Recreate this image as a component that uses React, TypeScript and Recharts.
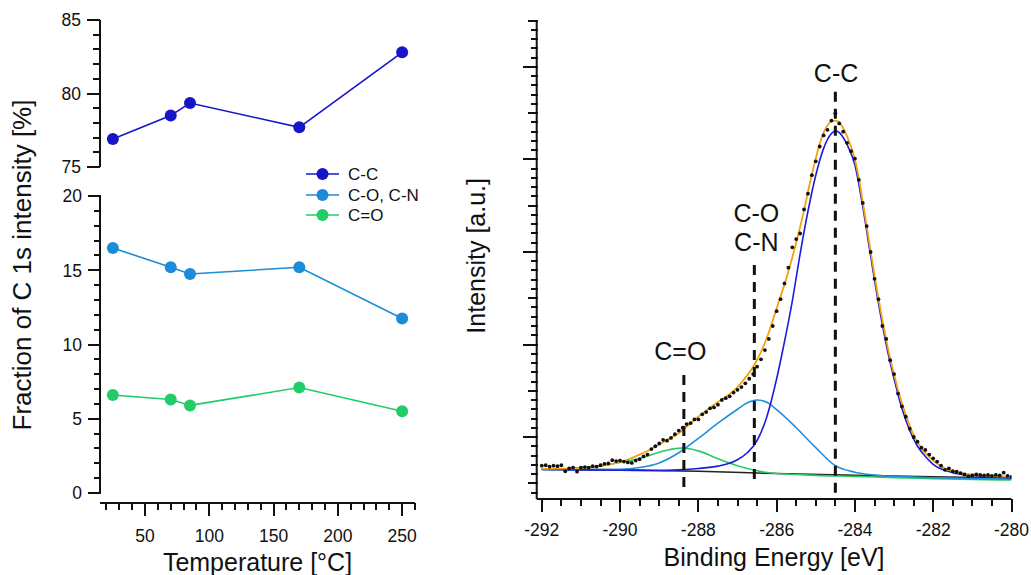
import React from "react";
import {
  LineChart,
  ComposedChart,
  Line,
  Scatter,
  XAxis,
  YAxis,
  ReferenceLine,
  Legend,
} from "recharts";

const FONT = '"Liberation Sans", Arial, Helvetica, sans-serif';
const INK = "#111";

// ---- left panel: fractions vs temperature ----
const temperatures = [25, 70, 85, 170, 250];
const fracCC = [76.9, 78.5, 79.35, 77.7, 82.8];
const fracCO = [16.5, 15.2, 14.75, 15.2, 11.75];
const fracCdO = [6.6, 6.3, 5.9, 7.1, 5.5];

const seriesNames = ["C-C", "C-O, C-N", "C=O"];
const seriesColors = ["#1616c8", "#1c8bd8", "#22cc68"];

const tempLabels = [50, 100, 150, 200, 250];
const topLabels = [75, 80, 85];
const bottomLabels = [0, 5, 10, 15, 20];

// ---- right panel: C 1s spectrum ----
const beLabels = [-292, -290, -288, -286, -284, -282, -280];

const bgEnergy = [-292, -290, -288, -286, -284, -282, -280];
const bgIntensity = [6.55, 6.45, 6.3, 6.05, 5.85, 5.7, 5.55];

const cdoEnergy = [-292, -291.5, -291, -290.5, -290, -289.5, -289, -288.75, -288.45, -288.2, -288, -287.5, -287, -286.5, -286, -285.5, -285, -284, -283, -282, -281, -280];
const cdoIntensity = [6.5, 6.55, 6.7, 6.9, 7.25, 7.7, 8.35, 8.62, 8.8, 8.7, 8.5, 7.65, 6.9, 6.35, 6.05, 5.95, 5.85, 5.75, 5.6, 5.5, 5.4, 5.35];

const coEnergy = [-292, -291, -290, -289.5, -289, -288.5, -288, -287.5, -287, -286.75, -286.5, -286.25, -286, -285.5, -285, -284.5, -284, -283.5, -283, -282, -281, -280];
const coIntensity = [6.5, 6.45, 6.5, 6.7, 7.2, 8.3, 9.85, 11.5, 13.0, 13.7, 14.0, 13.75, 12.95, 11.0, 8.85, 6.9, 6.2, 5.9, 5.75, 5.6, 5.5, 5.45];

const ccEnergy = [-292, -291, -290, -289, -288.5, -288, -287.5, -287.25, -287, -286.75, -286.5, -286.25, -286, -285.8, -285.6, -285.4, -285.2, -285, -284.8, -284.6, -284.5, -284.4, -284.2, -284, -283.8, -283.6, -283.4, -283.2, -283, -282.8, -282.6, -282.4, -282.2, -282, -281.5, -281, -280.5, -280];
const ccIntensity = [6.5, 6.45, 6.4, 6.38, 6.45, 6.6, 6.85, 7.1, 7.55, 8.3, 9.6, 12.2, 16.3, 20.3, 24.7, 29.8, 34.4, 38.3, 41.2, 42.8, 43.1, 42.9, 41.6, 39.4, 34.9, 29.6, 24.5, 20.0, 16.3, 13.1, 10.7, 9.0, 7.9, 7.05, 6.15, 5.85, 5.7, 5.6];

const envEnergy = [-292, -291.5, -291, -290.5, -290, -289.75, -289.5, -289.25, -289, -288.75, -288.5, -288.25, -288, -287.75, -287.5, -287.25, -287, -286.8, -286.6, -286.4, -286.2, -286, -285.9, -285.8, -285.7, -285.6, -285.5, -285.4, -285.3, -285.2, -285.1, -285, -284.9, -284.8, -284.7, -284.6, -284.5, -284.4, -284.3, -284.2, -284.1, -284, -283.9, -283.8, -283.7, -283.6, -283.5, -283.4, -283.3, -283.2, -283.1, -283, -282.9, -282.8, -282.7, -282.6, -282.5, -282.4, -282.3, -282.2, -282.1, -282, -281.8, -281.6, -281.4, -281.2, -281, -280.5, -280];
const envIntensity = [6.55, 6.58, 6.65, 6.85, 7.3, 7.65, 8.1, 8.6, 9.2, 9.8, 10.4, 11.3, 12.2, 13.0, 13.8, 14.5, 15.4, 16.4, 17.6, 19.2, 21.3, 23.9, 25.2, 26.5, 27.9, 29.4, 31.0, 32.7, 34.5, 36.5, 38.4, 40.1, 41.7, 42.9, 43.7, 44.1, 44.2, 44.0, 43.4, 42.5, 41.4, 40.0, 38.0, 35.4, 32.8, 30.1, 27.5, 25.0, 22.7, 20.5, 18.5, 16.8, 15.1, 13.7, 12.4, 11.2, 10.2, 9.4, 8.8, 8.3, 7.85, 7.45, 6.85, 6.45, 6.2, 6.05, 5.95, 5.8, 5.7];

// measured points, 0.1 eV steps from -292 to -280
const measStart = -292;
const measStep = 0.1;
const measIntensity = [
  6.9, 6.95, 6.8, 6.9, 6.85, 6.95, 6.3, 6.6, 6.7, 6.25,
  6.7, 6.75, 6.7, 6.85, 6.8, 6.95, 7.1, 7.15, 7.5, 7.4,
  7.45, 7.35, 7.25, 7.2, 7.45, 7.6, 7.9, 8.1, 8.7, 9.0,
  9.3, 9.7, 9.6, 9.9, 10.3, 10.7, 11.0, 11.4, 11.5, 11.9,
  11.9, 12.45, 12.7, 13.1, 13.2, 13.5, 14.0, 14.2, 14.4, 14.8,
  15.1, 15.4, 15.8, 16.3, 16.8, 17.6, 18.4, 19.4, 20.6, 22.0,
  23.6, 24.9, 26.6, 28.3, 30.5, 31.4, 32.0, 34.6, 36.3, 38.3,
  39.8, 41.4, 42.6, 43.2, 44.2, 45.0, 43.9, 43.0, 41.8, 40.9,
  40.1, 37.8, 35.3, 32.8, 30.0, 27.1, 24.9, 22.0, 20.6, 18.3,
  16.8, 14.7, 13.3, 12.2, 10.9, 10.0, 9.5, 8.85, 8.6, 8.1,
  7.7, 7.35, 6.9, 6.45, 6.6, 6.3, 6.25, 6.1, 5.95, 5.75,
  5.85, 5.95, 5.9, 5.85, 5.9, 5.8, 5.9, 5.85, 6.15, 5.8,
  5.7,
];

const peakNames = [["C-C"], ["C-O", "C-N"], ["C=O"]];
const peakEnergies = [-284.5, -286.57, -288.37];
const peakTops = [47.33, 28.6, 16.7];
const peakBottoms = [3.95, 5.03, 4.38];

const COLORS = {
  bg: "#222",
  cdo: "#2acb66",
  co: "#1e90dc",
  cc: "#1c1ce0",
  env: "#f5a20a",
};

const range = (a: number, b: number, step: number) => {
  const out: number[] = [];
  for (let v = a; v <= b + 1e-9; v += step) out.push(Math.round(v * 100) / 100);
  return out;
};

const toRows = (es: number[], vs: number[]) => es.map((e, i) => ({ e, v: vs[i] }));

const leftRows = temperatures.map((t, i) => ({
  t,
  cc: fracCC[i],
  co: fracCO[i],
  cdo: fracCdO[i],
}));

const tickText = { fontSize: 17.5, fontFamily: FONT, fill: INK };
const tickStroke = { stroke: INK, strokeWidth: 2, shapeRendering: "crispEdges" as const };

const tempTick = (props: any) => {
  const { x, y, payload } = props;
  const major = tempLabels.includes(payload.value);
  return (
    <g>
      <line x1={x} x2={x} y1={y} y2={y + (major ? 12.5 : 6.5)} {...tickStroke} />
      {major && (
        <text x={x} y={y + 38.5} textAnchor="middle" {...tickText}>
          {payload.value}
        </text>
      )}
    </g>
  );
};

const fracTick = (labels: number[]) => (props: any) => {
  const { x, y, payload } = props;
  const major = labels.includes(payload.value);
  return (
    <g>
      <line x1={x - (major ? 12.5 : 6.5)} x2={x + 1} y1={y} y2={y} {...tickStroke} />
      {major && (
        <text x={x - 18} y={y + 6.3} textAnchor="end" {...tickText}>
          {payload.value}
        </text>
      )}
    </g>
  );
};

const beTick = (props: any) => {
  const { x, y, payload } = props;
  const major = beLabels.includes(payload.value);
  return (
    <g>
      <line x1={x} x2={x} y1={y} y2={y + (major ? 12.5 : 6.5)} {...tickStroke} />
      {major && (
        <text x={x} y={y + 37} textAnchor="middle" {...tickText}>
          {String(payload.value)}
        </text>
      )}
    </g>
  );
};

const intensityTick = (props: any) => {
  const { x, y, payload } = props;
  const v = Math.round(payload.value);
  const len = v % 10 === 0 ? 13.5 : v % 5 === 0 ? 8.5 : 5.5;
  return <line x1={x - len} x2={x + 1} y1={y} y2={y} {...tickStroke} />;
};

const leftTitle = (props: any) => {
  const vb = props.viewBox;
  const cx = vb.x - 68;
  const cy = vb.y + vb.height / 2 + 3.5;
  return (
    <text x={cx} y={cy} transform={`rotate(-90, ${cx}, ${cy})`} textAnchor="middle" fontSize={26} fontFamily={FONT} fill={INK}>
      Fraction of C 1s intensity [%]
    </text>
  );
};

const rightTitle = (props: any) => {
  const vb = props.viewBox;
  const cx = vb.x - 50.5;
  const cy = vb.y + vb.height / 2 - 4;
  return (
    <text x={cx} y={cy} transform={`rotate(-90, ${cx}, ${cy})`} textAnchor="middle" fontSize={25} fontFamily={FONT} fill={INK}>
      Intensity [a.u.]
    </text>
  );
};

const peakLabelGaps = [10, 14.3, 15];
const peakLabelShift = [0.7, 2, -3.5];

const peakLabel = (idx: number) => (props: any) => {
  const vb = props.viewBox;
  const lines = peakNames[idx];
  const lh = 29;
  const x = vb.x + peakLabelShift[idx];
  return (
    <text x={x} y={vb.y - peakLabelGaps[idx] - lh * (lines.length - 1)} textAnchor="middle" fontSize={25} fontFamily={FONT} fill={INK}>
      {lines.map((l, i) => (
        <tspan key={l} x={x} dy={i === 0 ? 0 : lh}>
          {l}
        </tspan>
      ))}
    </text>
  );
};

const renderLegend = () => (
  <svg width={130} height={64} style={{ overflow: "visible" }}>
    {seriesNames.map((name, i) => {
      const cy = [11, 32, 52][i];
      return (
        <g key={name}>
          <line x1={6} x2={39} y1={cy} y2={cy} stroke={seriesColors[i]} strokeWidth={1.7} />
          <circle cx={22.5} cy={cy} r={6} fill={seriesColors[i]} />
          <text x={48} y={cy + 6} fontSize={17} fontFamily={FONT} fill={INK}>
            {name}
          </text>
        </g>
      );
    })}
  </svg>
);

const dotShape = (props: any) => <circle cx={props.cx} cy={props.cy} r={1.9} fill="#111" />;

export default function App() {
  const measRows = measIntensity.map((v, i) => ({ e: Math.round((measStart + i * measStep) * 10) / 10, v }));
  const lineProps = { type: "monotone" as const, dot: false, isAnimationActive: false, strokeWidth: 1.6 };
  const axisStroke = { stroke: INK, strokeWidth: 2 };

  return (
    <div style={{ position: "absolute", left: 0, top: 0, width: 1031, height: 575, background: "#fff" }}>
      <div style={{ position: "absolute", left: 0, top: 0 }}>
        <LineChart width={440} height={575} data={leftRows} margin={{ top: 20, right: 25, bottom: 71, left: 98 }}>
          <XAxis
            dataKey="t"
            type="number"
            domain={[15, 260]}
            allowDataOverflow
            ticks={range(20, 260, 10)}
            interval={0}
            height={1}
            tickSize={0}
            tickMargin={0}
            tickLine={false}
            axisLine={axisStroke}
            tick={tempTick}
            label={{ value: "Temperature [°C]", position: "bottom", offset: 49, fontSize: 25, fontFamily: FONT, fill: INK }}
          />
          <YAxis
            yAxisId="top"
            type="number"
            domain={[52.143, 85]}
            allowDataOverflow
            ticks={range(75, 85, 1)}
            interval={0}
            width={1}
            tickSize={0}
            tickMargin={0}
            tickLine={false}
            axisLine={false}
            tick={fracTick(topLabels)}
          />
          <YAxis
            yAxisId="bottom"
            type="number"
            domain={[-0.673, 31.852]}
            allowDataOverflow
            ticks={range(0, 20, 1)}
            interval={0}
            width={1}
            tickSize={0}
            tickMargin={0}
            tickLine={false}
            axisLine={false}
            tick={fracTick(bottomLabels)}
            label={leftTitle}
          />
          <ReferenceLine yAxisId="top" segment={[{ x: 15, y: 75 }, { x: 15, y: 85 }]} {...axisStroke} />
          <ReferenceLine yAxisId="bottom" segment={[{ x: 15, y: 0 }, { x: 15, y: 20 }]} {...axisStroke} />
          <Line yAxisId="top" dataKey="cc" name={seriesNames[0]} stroke={seriesColors[0]} strokeWidth={1.6} dot={{ r: 6, fill: seriesColors[0], strokeWidth: 0 }} isAnimationActive={false} type="linear" />
          <Line yAxisId="bottom" dataKey="co" name={seriesNames[1]} stroke={seriesColors[1]} strokeWidth={1.6} dot={{ r: 6, fill: seriesColors[1], strokeWidth: 0 }} isAnimationActive={false} type="linear" />
          <Line yAxisId="bottom" dataKey="cdo" name={seriesNames[2]} stroke={seriesColors[2]} strokeWidth={1.6} dot={{ r: 6, fill: seriesColors[2], strokeWidth: 0 }} isAnimationActive={false} type="linear" />
          <Legend
            layout="vertical"
            align="center"
            verticalAlign="middle"
            content={renderLegend}
            wrapperStyle={{ left: 300, top: 163, width: 130, height: 64 }}
          />
        </LineChart>
      </div>

      <div style={{ position: "absolute", left: 440, top: 0 }}>
        <ComposedChart width={591} height={575} margin={{ top: 20.7, right: 19.5, bottom: 75, left: 95.7 }}>
          <XAxis
            dataKey="e"
            type="number"
            domain={[-292.13, -280]}
            allowDataOverflow
            ticks={range(-292, -280, 0.5)}
            interval={0}
            height={1}
            tickSize={0}
            tickMargin={0}
            tickLine={false}
            axisLine={axisStroke}
            tick={beTick}
            label={{ value: "Binding Energy [eV]", position: "bottom", offset: 48, fontSize: 25, fontFamily: FONT, fill: INK }}
          />
          <YAxis
            dataKey="v"
            type="number"
            domain={[3.3, 55]}
            allowDataOverflow
            ticks={range(4, 55, 1)}
            interval={0}
            width={1}
            tickSize={0}
            tickMargin={0}
            tickLine={false}
            axisLine={axisStroke}
            tick={intensityTick}
            label={rightTitle}
          />
          <Line data={toRows(bgEnergy, bgIntensity)} dataKey="v" stroke={COLORS.bg} {...lineProps} />
          <Line data={toRows(cdoEnergy, cdoIntensity)} dataKey="v" stroke={COLORS.cdo} {...lineProps} />
          <Line data={toRows(coEnergy, coIntensity)} dataKey="v" stroke={COLORS.co} {...lineProps} />
          <Line data={toRows(ccEnergy, ccIntensity)} dataKey="v" stroke={COLORS.cc} {...lineProps} />
          <Line data={toRows(envEnergy, envIntensity)} dataKey="v" stroke={COLORS.env} {...lineProps} strokeWidth={1.8} />
          <Scatter data={measRows} dataKey="v" shape={dotShape} isAnimationActive={false} />
          {peakEnergies.map((e, i) => (
            <ReferenceLine
              key={e}
              segment={[{ x: e, y: peakTops[i] }, { x: e, y: peakBottoms[i] }]}
              stroke={INK}
              strokeWidth={3}
              strokeDasharray="10 7"
              label={peakLabel(i)}
            />
          ))}
        </ComposedChart>
      </div>
    </div>
  );
}
